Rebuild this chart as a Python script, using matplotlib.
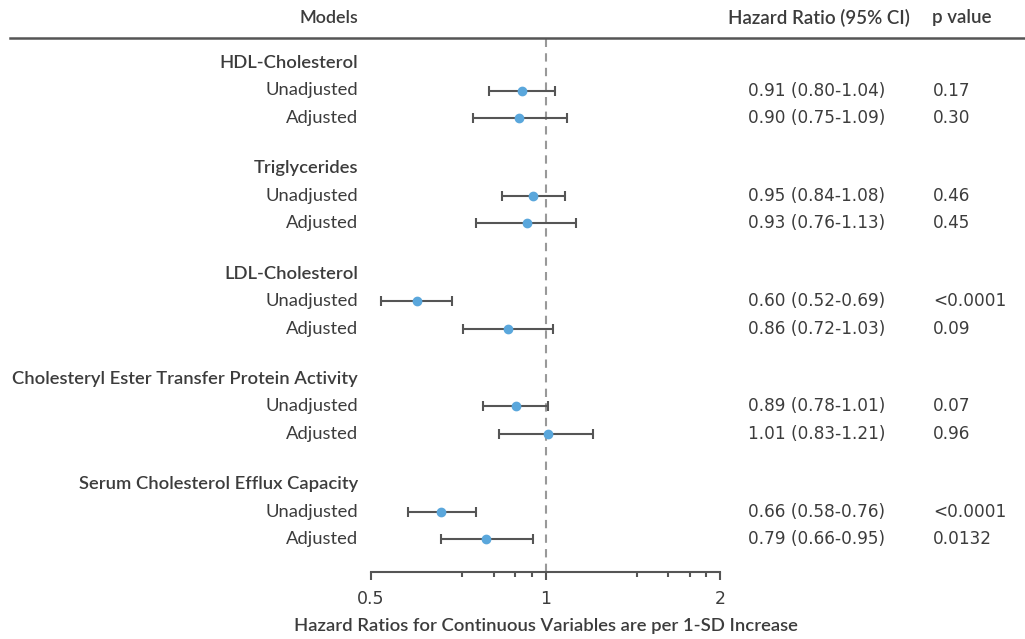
import numpy as np
import matplotlib
matplotlib.use("Agg")
import matplotlib.pyplot as plt
from matplotlib.transforms import blended_transform_factory

plt.rcParams['font.family'] = ['Lato', 'DejaVu Sans']
num_font = ['DejaVu Sans']

# data
groups = ["HDL-Cholesterol", "Triglycerides", "LDL-Cholesterol",
          "Cholesteryl Ester Transfer Protein Activity",
          "Serum Cholesterol Efflux Capacity"]
models = ["Unadjusted", "Adjusted"]
hr = [[0.91, 0.90], [0.95, 0.93], [0.60, 0.86], [0.89, 1.01], [0.66, 0.79]]
ci_low = [[0.80, 0.75], [0.84, 0.76], [0.52, 0.72], [0.78, 0.83], [0.58, 0.66]]
ci_high = [[1.04, 1.09], [1.08, 1.13], [0.69, 1.03], [1.01, 1.21], [0.76, 0.95]]
p_values = [["0.17", "0.30"], ["0.46", "0.45"], ["<0.0001", "0.09"],
            ["0.07", "0.96"], ["<0.0001", "0.0132"]]
xticks = [0.5, 1, 2]
xtick_labels = ["0.5", "1", "2"]

W, H = 1025, 639
text_col = "#3c3c3c"
line_col = "#555555"
dot_col = "#5aa7dc"

fig = plt.figure(figsize=(W / 100, H / 100), dpi=100)
# axes in pixel layout: x 371..720, y 38..572
ax = fig.add_axes([371 / W, 1 - 572 / H, 349 / W, (572 - 38) / H])
ax.set_xscale("log")
ax.set_xlim(0.5, 2)

# row layout: 27.5 px per row, group step 3.83 rows, first heading at 63 px
row_px = 27.5
y_top = (38 - 63) / row_px
y_bot = (572 - 63) / row_px
ax.set_ylim(y_bot, y_top)
group_step = 3.83

ax.axvline(1, color="#999999", lw=1.5, ls=(0, (4, 3)), zorder=1)

tr_fig = blended_transform_factory(fig.transFigure, ax.transData)

for g, name in enumerate(groups):
    y0 = g * group_step
    fig.text(358 / W, y0, name, transform=tr_fig, ha="right", va="center",
             fontsize=13.2, color=text_col, fontweight="semibold")
    for k, m in enumerate(models):
        y = y0 + k + 1
        est = hr[g][k]
        lo = ci_low[g][k]
        hi = ci_high[g][k]
        ax.errorbar([est], [y], xerr=[[est - lo], [hi - est]], fmt="none",
                    ecolor=line_col, elinewidth=1.5, capsize=3.5,
                    capthick=1.5, zorder=2)
        ax.plot([est], [y], "o", color=dot_col, ms=6, zorder=3)
        fig.text(358 / W, y, m, transform=tr_fig, ha="right", va="center",
                 fontsize=13.2, color=text_col)
        fig.text(748 / W, y, f"{est:.2f} ({lo:.2f}-{hi:.2f})", transform=tr_fig,
                 ha="left", va="center", fontsize=12.2, color=text_col,
                 family=num_font)
        fig.text(933 / W, y, p_values[g][k], transform=tr_fig,
                 ha="left", va="center", fontsize=12.2, color=text_col,
                 family=num_font)

# header
fig.text(358 / W, 1 - 18 / H, "Models", ha="right", va="center",
         fontsize=13.0, color=text_col, fontweight="semibold")
fig.text(728 / W, 1 - 18 / H, "Hazard Ratio (95% CI)", ha="left", va="center",
         fontsize=13.5, color=text_col, fontweight="semibold")
fig.text(932 / W, 1 - 18 / H, "p value", ha="left", va="center",
         fontsize=13.5, color=text_col, fontweight="semibold")
fig.add_artist(plt.Line2D([10 / W, 1], [1 - 38 / H, 1 - 38 / H],
                          color=line_col, lw=1.8, transform=fig.transFigure))

# axis styling
for s in ["top", "left", "right"]:
    ax.spines[s].set_visible(False)
ax.spines["bottom"].set_color(line_col)
ax.spines["bottom"].set_linewidth(1.5)
ax.set_yticks([])
ax.set_xticks(xticks)
ax.set_xticklabels(xtick_labels, family=num_font)
minor_frac = np.array([0.523, 0.703, 0.827, 0.922])
ax.set_xticks(list(0.5 * 2 ** minor_frac) + list(2 ** minor_frac), minor=True)
ax.xaxis.set_minor_formatter(plt.NullFormatter())
ax.tick_params(axis="x", which="major", length=6, width=1.5, color=line_col,
               labelsize=12.5, labelcolor=text_col, pad=7)
ax.tick_params(axis="x", which="minor", length=3.5, width=1.5, color=line_col)
ax.set_xlabel("Hazard Ratios for Continuous Variables are per 1-SD Increase",
              fontsize=13.3, color=text_col, fontweight="semibold", labelpad=7)
ax.patch.set_alpha(0)

fig.savefig("out.png", dpi=100)
